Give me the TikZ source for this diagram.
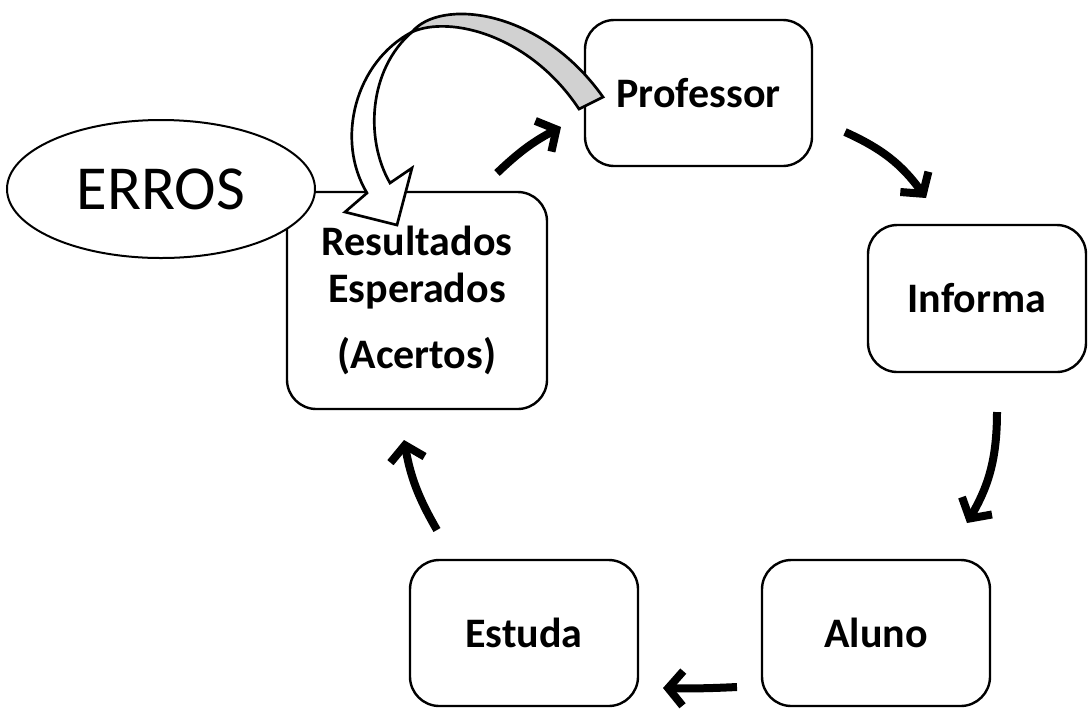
\documentclass[tikz,border=0pt]{standalone}
\usepackage{fontspec}
\setmainfont{Carlito}
\usetikzlibrary{shapes.geometric,arrows.meta}
\tikzset{
  box/.style={draw=black, line width=1.8pt, rounded corners=22pt, fill=white,
    font=\fontsize{31.5}{35}\selectfont\bfseries, align=center, inner sep=0pt},
  flow/.style={line width=6pt, -{Straight Barb[length=11pt,width=26pt,line width=6pt]}},
  ribbon/.style={draw=black, line width=2pt, line join=miter}
}
\begin{document}
\begin{tikzpicture}[x=0.75pt,y=-0.75pt]
\useasboundingbox (0,0) rectangle (1088,708);
% boxes
\node[box, minimum width=170.25pt, minimum height=109.5pt] (prof) at (698.5,93) {Professor};
\node[box, minimum width=163.5pt, minimum height=110.25pt] (inf) at (977,298.5) {Informa};
\node[box, minimum width=171pt, minimum height=109.5pt] (alu) at (876,633) {Aluno};
\node[box, minimum width=171pt, minimum height=109.5pt] (est) at (524,633) {Estuda};
\node[box, minimum width=195pt, minimum height=162.75pt] (res) at (417,300.5) {Resultados\\Esperados\\[15pt](Acertos)};
\node[draw=black, line width=1.5pt, fill=white, ellipse, inner sep=0pt,
  minimum width=231pt, minimum height=103.5pt,
  font=\fontsize{47}{56}\selectfont] (erros) at (161,189) {ERROS};
% cycle arrows
\coordinate (a1s) at (497,173); \coordinate (a1e) at (561,127);
\coordinate (a2s) at (845,132); \coordinate (a2e) at (926,198);
\coordinate (a3s) at (997,412); \coordinate (a3e) at (967,523);
\coordinate (a4s) at (737,687); \coordinate (a4e) at (663,688);
\coordinate (a5s) at (437,530); \coordinate (a5e) at (404,440);
\draw[flow] (a1s) to[bend left=8] (a1e);
\draw[flow] (a2s) to[bend left=15] (a2e);
\draw[flow] (a3s) to[bend left=15] (a3e);
\draw[flow] (a4s) to[bend left=2] (a4e);
\draw[flow] (a5s) to[bend left=10] (a5e);
% curved ribbon arrow
\coordinate (tw) at (412,32);
\draw[ribbon, fill=white] (tw) .. controls (355,62) and (335,140) .. (367,193)
  -- (345,212) -- (397,225) -- (412,168) -- (390,183)
  .. controls (365,140) and (368,70) .. (tw) -- cycle;
\draw[ribbon, fill=black!18] (tw) .. controls (440,-2) and (540,8) .. (603,97)
  -- (579,109) .. controls (530,35) and (450,15) .. (tw) -- cycle;
\end{tikzpicture}
\end{document}
